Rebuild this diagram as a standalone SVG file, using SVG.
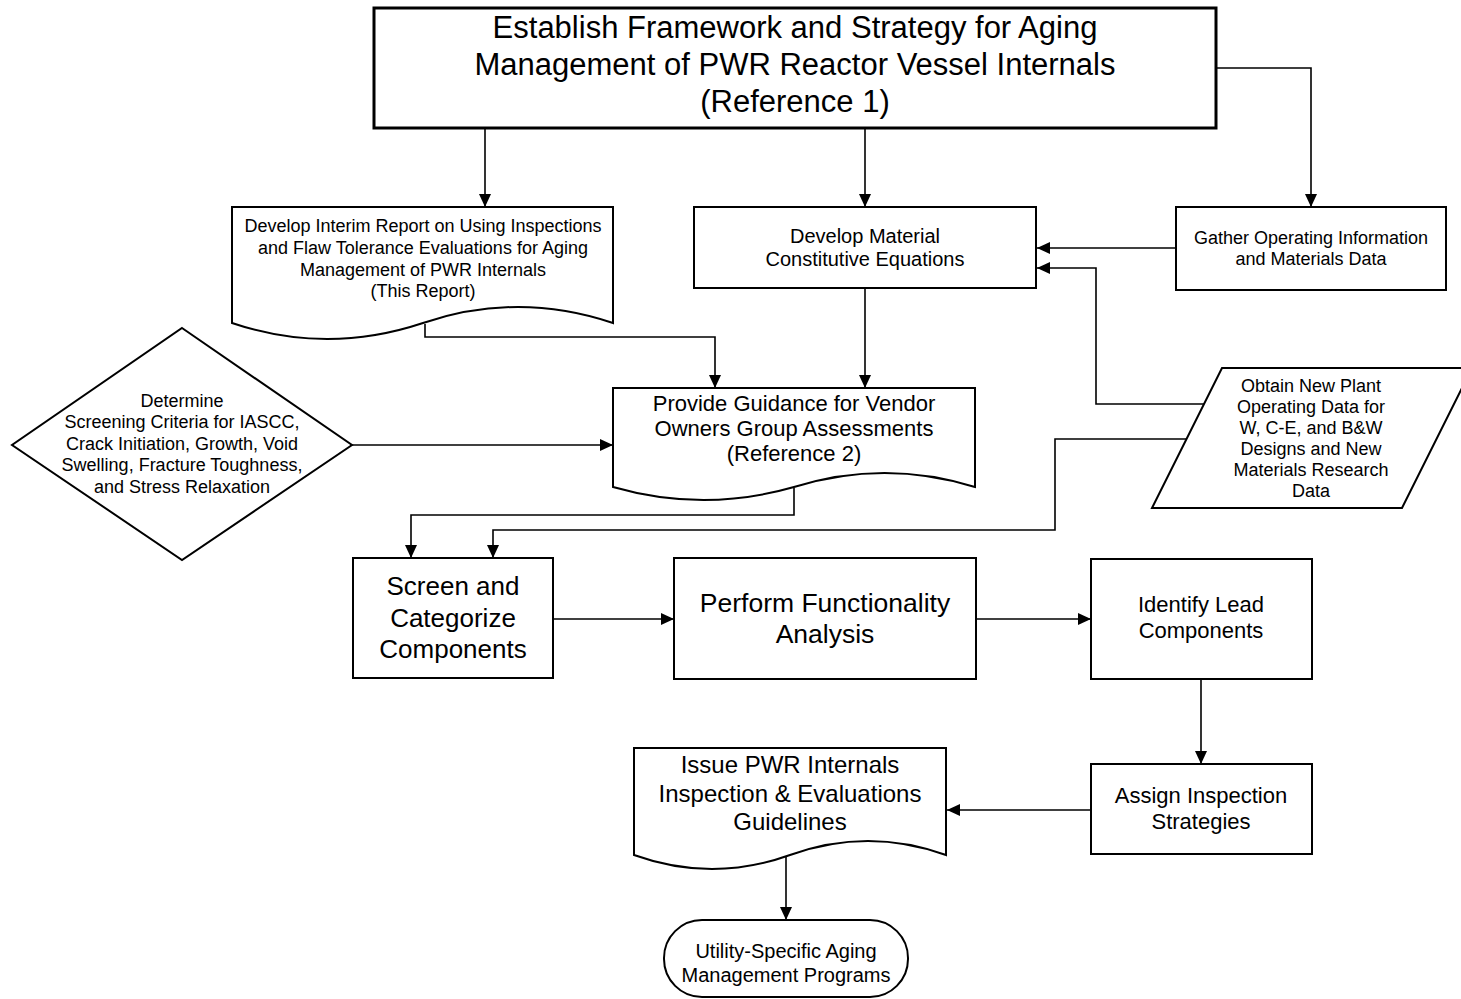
<svg xmlns="http://www.w3.org/2000/svg" width="1461" height="999" viewBox="0 0 1461 999">
<defs>
<marker id="arr" markerUnits="userSpaceOnUse" markerWidth="13" markerHeight="12" refX="13" refY="6" orient="auto">
<path d="M0,0 L13,6 L0,12 z" fill="#000"/>
</marker>
<style>
.n{fill:#fff;stroke:#000;stroke-width:2}
.c{fill:none;stroke:#000;stroke-width:1.6;marker-end:url(#arr)}
.cl{fill:none;stroke:#000;stroke-width:1.6}
text{font-family:"Liberation Sans",Arial,sans-serif;fill:#000;text-anchor:middle}
</style>
</defs>
<rect width="1461" height="999" fill="#fff"/>

<g id="connectors">
<path class="c" d="M485,129 V207"/>
<path class="c" d="M865,129 V207"/>
<path class="c" d="M1217,68 H1311 V207"/>
<path class="c" d="M1176,248 H1037"/>
<path class="c" d="M1204,404 H1096 V268 H1037"/>
<path class="c" d="M425,324 V337 H715 V388"/>
<path class="c" d="M865,288 V388"/>
<path class="c" d="M352,445 H613"/>
<path class="c" d="M794,488 V515 H411 V558"/>
<path class="c" d="M1187,439 H1055 V530 H493 V558"/>
<path class="c" d="M553,619 H674"/>
<path class="c" d="M976,619 H1091"/>
<path class="c" d="M1201,679 V764"/>
<path class="c" d="M1091,810 H947"/>
<path class="c" d="M786,857 V920"/>
</g>

<g id="framework">
<rect x="374" y="8" width="842" height="120" fill="#fff" stroke="#000" stroke-width="3"/>
<text font-size="31"><tspan x="795" y="38">Establish Framework and Strategy for Aging</tspan><tspan x="795" y="75">Management of PWR Reactor Vessel Internals</tspan><tspan x="795" y="112">(Reference 1)</tspan></text>
</g>

<g id="interim">
<path class="n" d="M232,207 H613 V323 Q518,291 423,323 Q327,355 232,323 Z"/>
<text font-size="18"><tspan x="423" y="232">Develop Interim Report on Using Inspections</tspan><tspan x="423" y="254">and Flaw Tolerance Evaluations for Aging</tspan><tspan x="423" y="276">Management of PWR Internals</tspan><tspan x="423" y="297">(This Report)</tspan></text>
</g>

<g id="material">
<rect class="n" x="694" y="207" width="342" height="81"/>
<text font-size="20"><tspan x="865" y="243">Develop Material</tspan><tspan x="865" y="266">Constitutive Equations</tspan></text>
</g>

<g id="gather">
<rect class="n" x="1176" y="207" width="270" height="83"/>
<text font-size="18"><tspan x="1311" y="244">Gather Operating Information</tspan><tspan x="1311" y="265">and Materials Data</tspan></text>
</g>

<g id="screening-criteria">
<path class="n" d="M182,328 L352,445 L182,560 L12,445 Z"/>
<text font-size="18"><tspan x="182" y="407">Determine</tspan><tspan x="182" y="428">Screening Criteria for IASCC,</tspan><tspan x="182" y="450">Crack Initiation, Growth, Void</tspan><tspan x="182" y="471">Swelling, Fracture Toughness,</tspan><tspan x="182" y="493">and Stress Relaxation</tspan></text>
</g>

<g id="guidance">
<path class="n" d="M613,388 H975 V487 Q884.5,459 794,487 Q703.5,513 613,487 Z"/>
<text font-size="22"><tspan x="794" y="411">Provide Guidance for Vendor</tspan><tspan x="794" y="436">Owners Group Assessments</tspan><tspan x="794" y="461">(Reference 2)</tspan></text>
</g>

<g id="new-data">
<path class="n" d="M1222,368 H1472 L1402,508 H1152 Z"/>
<text font-size="18"><tspan x="1311" y="392">Obtain New Plant</tspan><tspan x="1311" y="413">Operating Data for</tspan><tspan x="1311" y="434">W, C-E, and B&amp;W</tspan><tspan x="1311" y="455">Designs and New</tspan><tspan x="1311" y="476">Materials Research</tspan><tspan x="1311" y="497">Data</tspan></text>
</g>

<g id="screen">
<rect class="n" x="353" y="558" width="200" height="120"/>
<text font-size="26"><tspan x="453" y="595">Screen and</tspan><tspan x="453" y="626.5">Categorize</tspan><tspan x="453" y="658">Components</tspan></text>
</g>

<g id="functionality">
<rect class="n" x="674" y="558" width="302" height="121"/>
<text font-size="26.5"><tspan x="825" y="612">Perform Functionality</tspan><tspan x="825" y="643">Analysis</tspan></text>
</g>

<g id="lead">
<rect class="n" x="1091" y="559" width="221" height="120"/>
<text font-size="22"><tspan x="1201" y="612">Identify Lead</tspan><tspan x="1201" y="638">Components</tspan></text>
</g>

<g id="assign">
<rect class="n" x="1091" y="764" width="221" height="90"/>
<text font-size="22"><tspan x="1201" y="803">Assign Inspection</tspan><tspan x="1201" y="829">Strategies</tspan></text>
</g>

<g id="guidelines">
<path class="n" d="M634,748 H946 V855 Q868,827 790,855 Q712,883 634,855 Z"/>
<text font-size="24"><tspan x="790" y="773">Issue PWR Internals</tspan><tspan x="790" y="802">Inspection &amp; Evaluations</tspan><tspan x="790" y="830">Guidelines</tspan></text>
</g>

<g id="programs">
<rect class="n" x="664" y="920" width="244" height="77" rx="38" ry="38"/>
<text font-size="20"><tspan x="786" y="958">Utility-Specific Aging</tspan><tspan x="786" y="982">Management Programs</tspan></text>
</g>
</svg>
